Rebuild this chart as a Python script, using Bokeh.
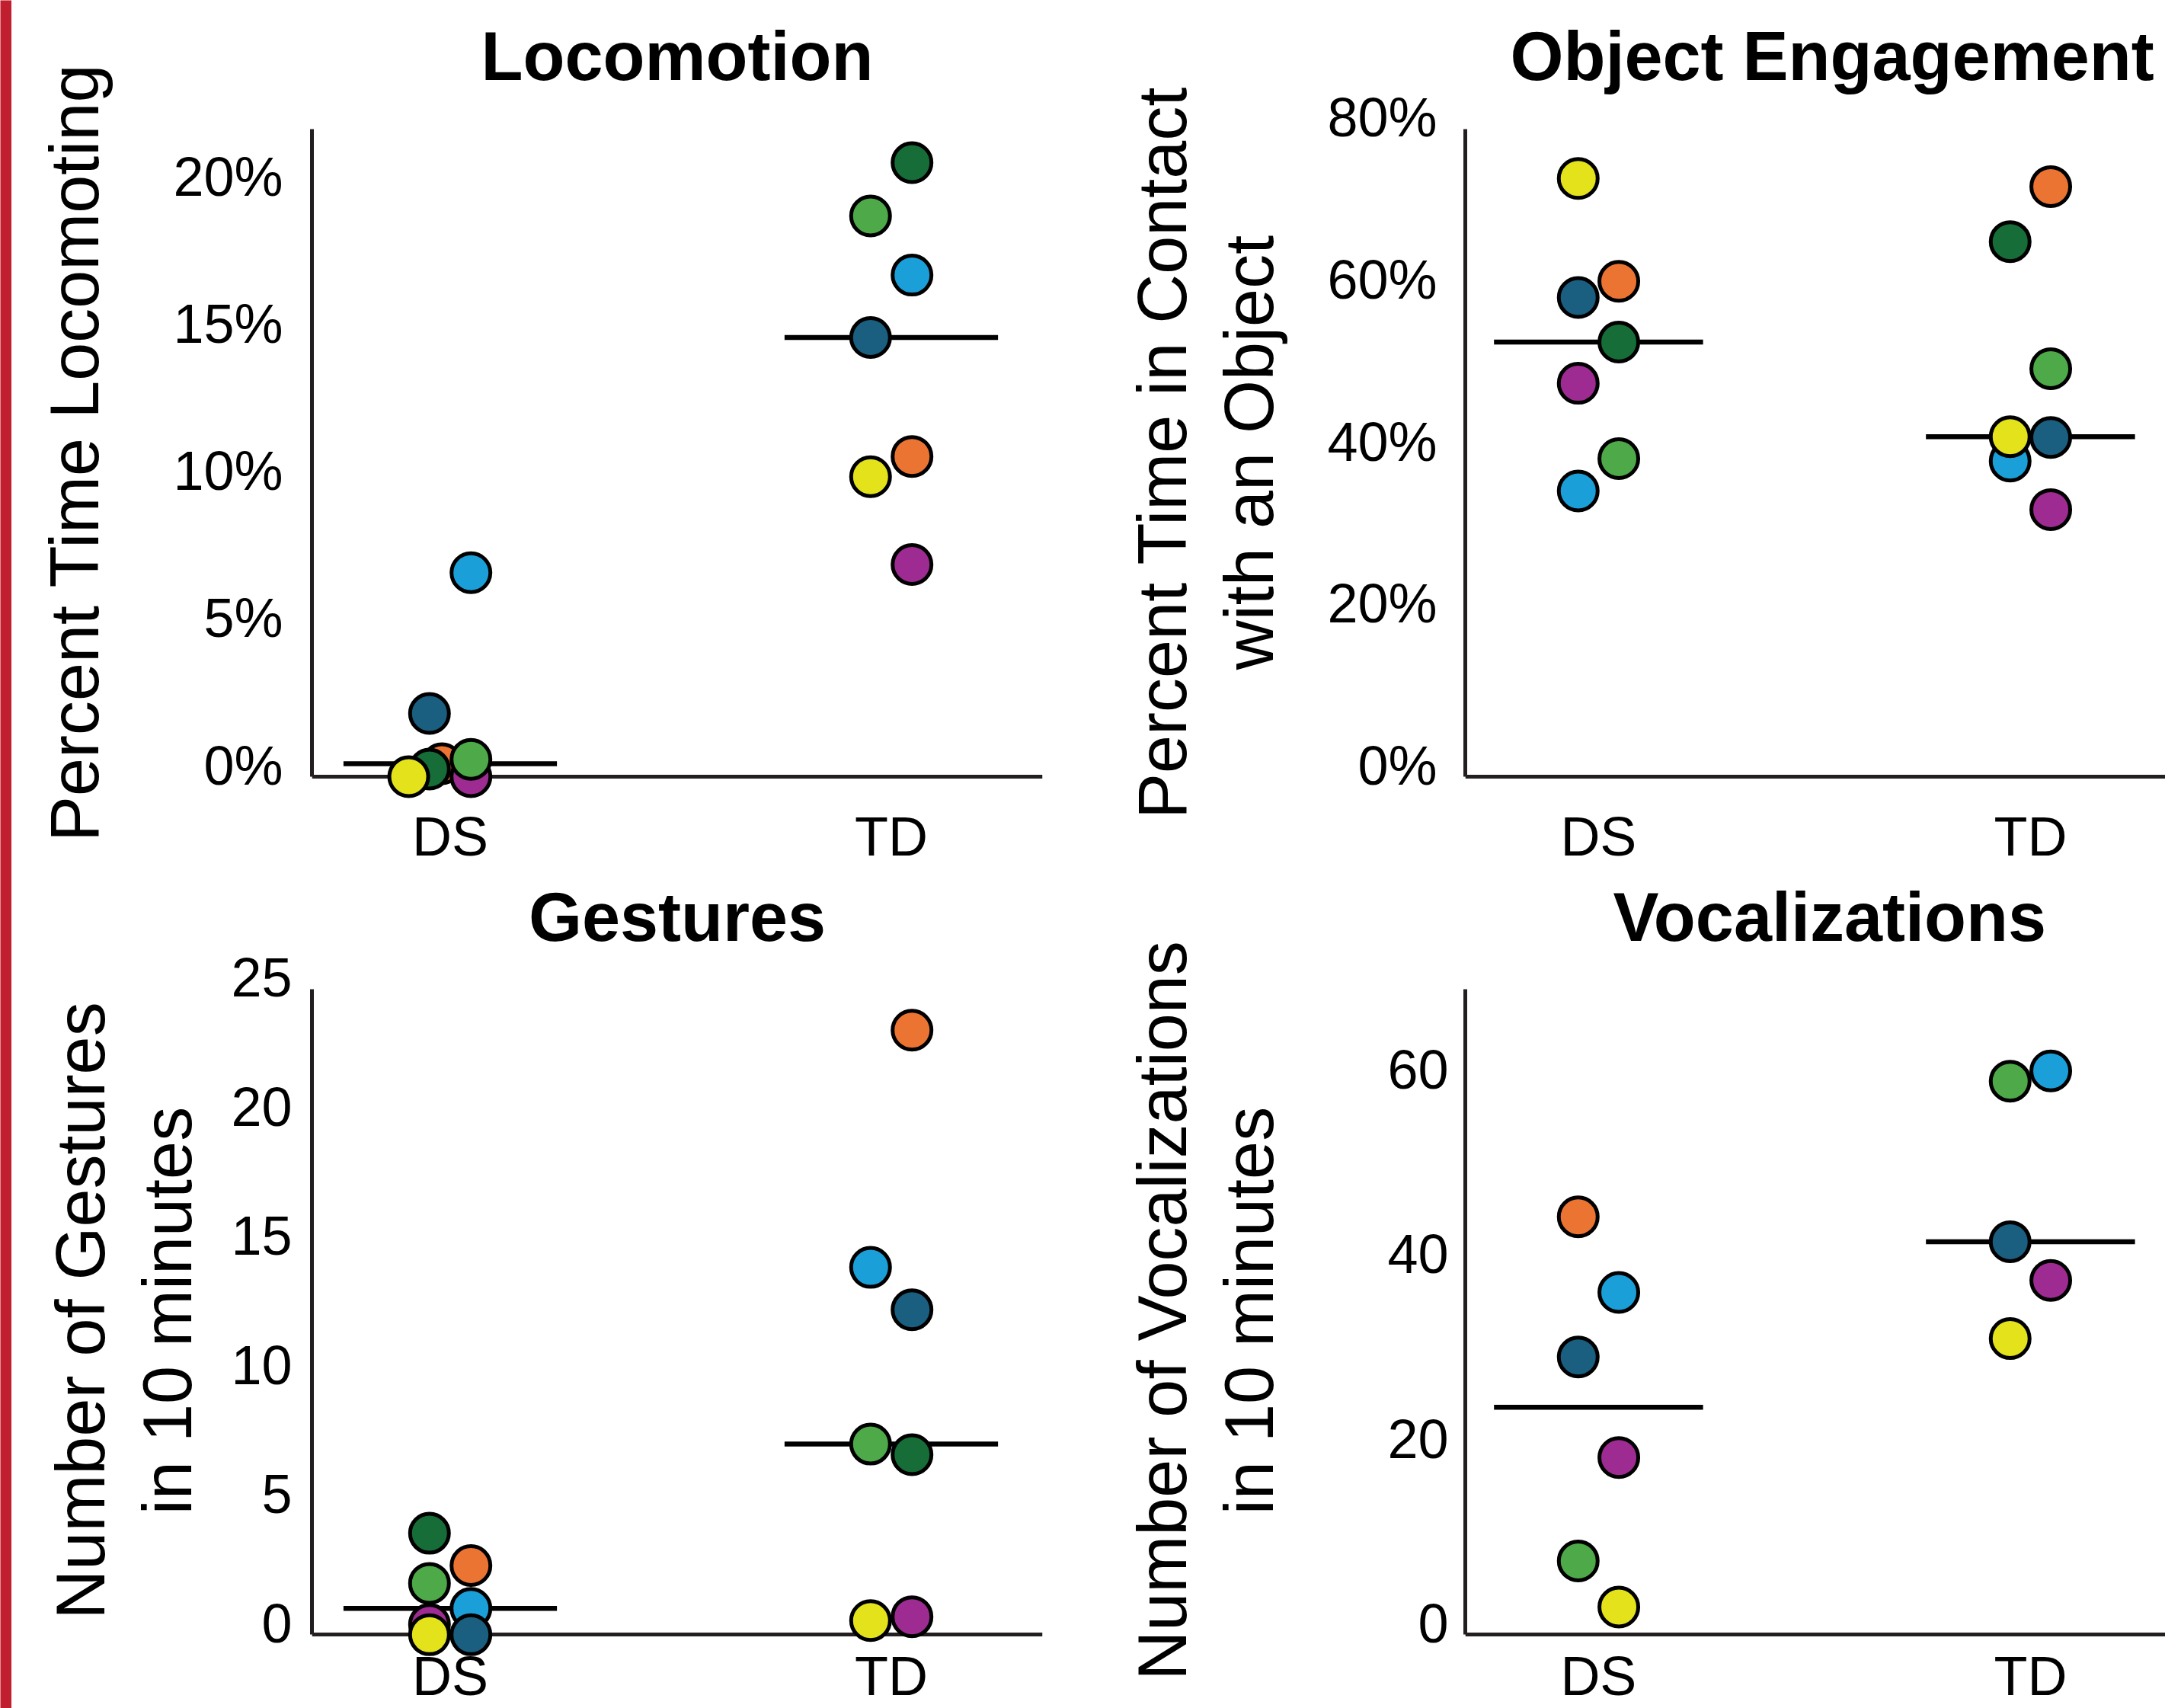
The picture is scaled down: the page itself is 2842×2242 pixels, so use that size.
import numpy as np
from bokeh.plotting import figure
from bokeh.models import Range1d, LinearAxis, FixedTicker, ColumnDataSource
from bokeh.layouts import row, column
from bokeh.embed import file_html
from bokeh.resources import INLINE

# ---------------- data ----------------
groups = ["DS", "TD"]
group_x = [1, 2]
participants = ["orange", "purple", "light blue", "dark blue", "green", "dark green", "yellow"]
participant_colors = ["#ec7433", "#9e2b91", "#1b9fd8", "#1a5e80", "#4ea948", "#166d37", "#e3e21b"]

titles = ["Locomotion", "Object Engagement", "Gestures", "Vocalizations"]
ylabels = ["Percent Time Locomoting",
           "Percent Time in Contact\nwith an Object",
           "Number of Gestures\nin 10 minutes",
           "Number of Vocalizations\nin 10 minutes"]

# values in participant order (None = not available)
loco_ds = [0.44, 0.0, 6.93, 2.15, 0.59, 0.26, 0.0]
loco_td = [10.88, 7.21, 17.04, 14.92, 19.05, 20.86, 10.19]
obj_ds = [61.2, 48.6, 35.3, 59.2, 39.3, 53.7, 73.9]
obj_td = [72.9, 33.0, 39.0, 41.9, 50.4, 66.1, 42.0]
gest_ds = [2.68, 0.4, 1.02, 0.0, 1.99, 3.93, 0.0]
gest_td = [23.4, 0.70, 14.22, 12.58, 7.38, 6.97, 0.55]
voc_ds = [45.3, 19.2, 37.1, 30.1, 8.0, None, 3.0]
voc_td = [None, 38.4, 61.1, 42.6, 60.0, None, 32.1]

loco_ticks = [0, 5, 10, 15, 20]
loco_tick_labels = ["0%", "5%", "10%", "15%", "20%"]
obj_ticks = [0, 20, 40, 60, 80]
obj_tick_labels = ["0%", "20%", "40%", "60%", "80%"]
gest_ticks = [0, 5, 10, 15, 20, 25]
gest_tick_labels = ["0", "5", "10", "15", "20", "25"]
voc_ticks = [0, 20, 40, 60]
voc_tick_labels = ["0", "20", "40", "60"]
axis_tops = [22, 80, 25, 70]

# horizontal placement of each dot within its group (column index, layout only)
loco_ds_col = [-0.4, 1, 1, -1, 1, -1, -2]
loco_td_col = [1, 1, 1, -1, -1, 1, -1]
obj_ds_col = [1, -1, -1, -1, 1, 1, -1]
obj_td_col = [1, 1, -1, 1, 1, -1, -1]
gest_ds_col = [1, -1, 1, 1, -1, -1, -1]
gest_td_col = [1, 1, -1, 1, -1, 1, -1]
voc_ds_col = [-1, 1, 1, -1, -1, 0, 1]
voc_td_col = [0, 1, 1, -1, -1, 0, -1]

# ---------------- style / layout ----------------
RED = "#c11f30"
AXIS_COLOR = "#231f20"
FONT = "Liberation Sans"
COL_STEP = 0.047
MED_HALF = 0.242
LABEL_SHIFT_PX = 15
RED_W = 15
LEFT_W, RIGHT_W = 1405, 1422
TOP_H, BOT_H = 1140, 1102


def make_panel(title, ylabel, ds, td, ds_col, td_col, ticks, tick_labels, ytop, geo):
    w, h = geo["w"], geo["h"]
    fl, br, ft, fb, z, t = geo["fl"], geo["br"], geo["ft"], geo["fb"], geo["z"], geo["t"]
    ppu = (z - t) / ytop
    ys = -(fb - z) / ppu
    ye = ytop + (t - ft) / ppu
    shift = LABEL_SHIFT_PX / ppu
    xs = 1 - (geo["ds"] - fl) / geo["xppu"]
    xe = xs + (w - fl - br) / geo["xppu"]

    p = figure(width=w, height=h, output_backend="svg", toolbar_location=None,
               x_range=Range1d(xs, xe), y_range=Range1d(ys, ye),
               x_axis_type=None, y_axis_type=None,
               min_border_left=fl, min_border_right=br,
               min_border_top=ft, min_border_bottom=h - fb)
    p.extra_y_ranges = {"lab": Range1d(ys - shift, ye - shift)}
    p.outline_line_color = None
    p.background_fill_color = "white"
    p.border_fill_color = "white"

    # y axis: line only (closest to frame)
    yline = LinearAxis(ticker=FixedTicker(ticks=[]), bounds=(0, ytop),
                       axis_line_color=AXIS_COLOR, axis_line_width=5,
                       major_tick_line_color=None, minor_tick_line_color=None,
                       major_label_text_font_size="0px", major_label_standoff=0)
    p.add_layout(yline, "left")
    # y axis: tick labels + axis title
    ylab = LinearAxis(y_range_name="lab", ticker=FixedTicker(ticks=ticks),
                      major_label_overrides=dict(zip(ticks, tick_labels)),
                      axis_line_color=None, major_tick_line_color=None, minor_tick_line_color=None,
                      major_tick_in=0, major_tick_out=0,
                      major_label_standoff=geo["ts"],
                      major_label_text_font=FONT, major_label_text_font_size="72px",
                      major_label_text_color="black",
                      axis_label=ylabel, axis_label_text_font=FONT,
                      axis_label_text_font_size="90px", axis_label_text_font_style="normal",
                      axis_label_text_color="black", axis_label_standoff=geo["als"],
                      axis_label_text_line_height=1.145)
    p.add_layout(ylab, "left")

    # x axis: line at zero (under the dots) and category labels
    xline = LinearAxis(fixed_location=0, ticker=FixedTicker(ticks=[]),
                       axis_line_color=AXIS_COLOR, axis_line_width=5,
                       major_tick_line_color=None, minor_tick_line_color=None,
                       major_label_text_font_size="0px", level="underlay")
    p.add_layout(xline, "below")
    xlab = LinearAxis(ticker=FixedTicker(ticks=group_x),
                      major_label_overrides=dict(zip(group_x, groups)),
                      axis_line_color=None, major_tick_line_color=None, minor_tick_line_color=None,
                      major_tick_in=0, major_tick_out=0,
                      major_label_standoff=geo["xs"],
                      major_label_text_font=FONT, major_label_text_font_size="72px",
                      major_label_text_color="black")
    p.add_layout(xlab, "below")

    # medians
    meds, mx0, mx1 = [], [], []
    for gx, vals in zip(group_x, (ds, td)):
        v = [a for a in vals if a is not None]
        meds.append(float(np.median(v)))
        mx0.append(gx - MED_HALF)
        mx1.append(gx + MED_HALF)
    p.segment(x0=mx0, x1=mx1, y0=meds, y1=meds, line_color="black", line_width=6.5)

    # dots
    xx, yy, cc = [], [], []
    for gx, vals, cols in zip(group_x, (ds, td), (ds_col, td_col)):
        for v, c, col in zip(vals, participant_colors, cols):
            if v is None:
                continue
            xx.append(gx + col * COL_STEP)
            yy.append(v)
            cc.append(c)
    src = ColumnDataSource(dict(x=xx, y=yy, color=cc))
    p.scatter("x", "y", source=src, size=51, fill_color="color",
              line_color="black", line_width=5)

    p.title.text = title
    p.title.text_font = FONT
    p.title.text_font_size = "90px"
    p.title.text_font_style = "bold"
    p.title.text_color = "black"
    p.title.align = geo["talign"]
    p.title.offset = geo["toff"]
    p.title.standoff = geo["tstand"]
    return p


geo_tl = dict(w=LEFT_W, h=TOP_H, fl=394, br=52, ft=138, fb=1050, z=1020, t=169,
              ds=575.5, xppu=579, ts=38, als=76, xs=8, talign="center", toff=0, tstand=29)
geo_tr = dict(w=RIGHT_W, h=TOP_H, fl=503, br=0, ft=138, fb=1050, z=1020, t=169,
              ds=677.9, xppu=567, ts=37, als=49, xs=8, talign="left", toff=59, tstand=29)
geo_bl = dict(w=LEFT_W, h=BOT_H, fl=394, br=52, ft=125, fb=1037, z=1007.3, t=157.6,
              ds=575.5, xppu=579, ts=26, als=30, xs=-16, talign="center", toff=0, tstand=23)
geo_br = dict(w=RIGHT_W, h=BOT_H, fl=503, br=0, ft=125, fb=1037, z=1007.3, t=157.6,
              ds=677.9, xppu=567, ts=22, als=128, xs=-16, talign="left", toff=194, tstand=23)

p1 = make_panel(titles[0], ylabels[0], loco_ds, loco_td, loco_ds_col, loco_td_col,
                loco_ticks, loco_tick_labels, axis_tops[0], geo_tl)
p2 = make_panel(titles[1], ylabels[1], obj_ds, obj_td, obj_ds_col, obj_td_col,
                obj_ticks, obj_tick_labels, axis_tops[1], geo_tr)
p3 = make_panel(titles[2], ylabels[2], gest_ds, gest_td, gest_ds_col, gest_td_col,
                gest_ticks, gest_tick_labels, axis_tops[2], geo_bl)
p4 = make_panel(titles[3], ylabels[3], voc_ds, voc_td, voc_ds_col, voc_td_col,
                voc_ticks, voc_tick_labels, axis_tops[3], geo_br)

bar = figure(width=RED_W, height=TOP_H + BOT_H, output_backend="svg", toolbar_location=None,
             x_axis_type=None, y_axis_type=None, min_border=0,
             background_fill_color=RED, border_fill_color=RED, outline_line_color=None)

layout = row(bar, column(row(p1, p2), row(p3, p4)))
open("out.html", "w").write(file_html(layout, INLINE))
